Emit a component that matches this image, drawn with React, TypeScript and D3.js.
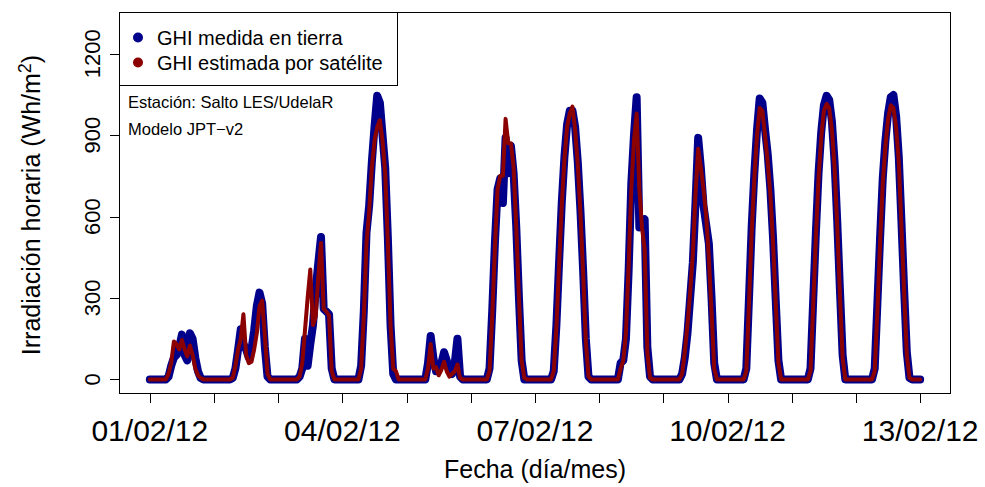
import React, { useRef, useEffect } from 'react';
import * as d3 from 'd3';

// etiquetas del eje x (una por día, se rotulan cada 3)
const dayLabels = [
  '01/02/12', '02/02/12', '03/02/12', '04/02/12', '05/02/12', '06/02/12', '07/02/12',
  '08/02/12', '09/02/12', '10/02/12', '11/02/12', '12/02/12', '13/02/12',
];
const yTicks = [0, 300, 600, 900, 1200];

// GHI horaria medida en tierra (Wh/m2), una fila por día, horas 0..23
const medida: number[][] = [
  [0, 0, 0, 0, 0, 0, 0, 10, 50, 80, 90, 120, 165, 90, 70, 170, 150, 80, 30, 5, 0, 0, 0, 0],
  [0, 0, 0, 0, 0, 0, 0, 5, 40, 110, 185, 130, 110, 80, 110, 180, 270, 320, 280, 120, 10, 0, 0, 0],
  [0, 0, 0, 0, 0, 0, 0, 0, 10, 40, 150, 50, 130, 200, 330, 430, 525, 260, 250, 240, 40, 0, 0, 0],
  [0, 0, 0, 0, 0, 0, 0, 50, 250, 540, 640, 800, 930, 1045, 1020, 900, 780, 520, 200, 20, 0, 0, 0, 0],
  [0, 0, 0, 0, 0, 0, 0, 0, 60, 160, 80, 30, 40, 60, 100, 70, 30, 20, 60, 150, 10, 0, 0, 0],
  [0, 0, 0, 0, 0, 0, 0, 40, 250, 500, 700, 740, 650, 890, 760, 860, 760, 560, 300, 70, 0, 0, 0, 0],
  [0, 0, 0, 0, 0, 0, 0, 30, 200, 430, 650, 820, 940, 990, 990, 930, 800, 620, 400, 150, 10, 0, 0, 0],
  [0, 0, 0, 0, 0, 0, 0, 0, 60, 70, 150, 400, 720, 900, 1040, 560, 580, 590, 120, 10, 0, 0, 0, 0],
  [0, 0, 0, 0, 0, 0, 0, 20, 80, 170, 300, 430, 650, 890, 780, 640, 570, 500, 300, 60, 0, 0, 0, 0],
  [0, 0, 0, 0, 0, 0, 0, 40, 300, 560, 760, 920, 1035, 1020, 920, 830, 700, 520, 290, 70, 0, 0, 0, 0],
  [0, 0, 0, 0, 0, 0, 0, 40, 290, 540, 760, 910, 1010, 1045, 1030, 950, 800, 580, 330, 90, 0, 0, 0, 0],
  [0, 0, 0, 0, 0, 0, 0, 40, 280, 520, 740, 880, 980, 1040, 1048, 970, 820, 580, 330, 100, 5, 0, 0, 0],
];

// GHI horaria estimada por satélite (Wh/m2)
const estimada: number[][] = [
  [0, 0, 0, 0, 0, 0, 0, 20, 60, 140, 130, 110, 145, 110, 85, 125, 90, 40, 15, 5, 0, 0, 0, 0],
  [0, 0, 0, 0, 0, 0, 0, 5, 50, 110, 150, 240, 90, 60, 65, 110, 170, 270, 290, 160, 20, 0, 0, 0],
  [0, 0, 0, 0, 0, 0, 0, 0, 10, 60, 180, 300, 405, 200, 230, 380, 503, 260, 250, 235, 30, 0, 0, 0],
  [0, 0, 0, 0, 0, 0, 0, 40, 230, 500, 620, 780, 880, 930, 955, 880, 760, 500, 200, 40, 30, 0, 0, 0],
  [0, 0, 0, 0, 0, 0, 0, 0, 40, 130, 40, 45, 15, 35, 65, 30, 10, 20, 30, 55, 5, 0, 0, 0],
  [0, 0, 0, 0, 0, 0, 0, 30, 230, 480, 700, 750, 750, 960, 870, 870, 780, 560, 300, 70, 5, 0, 0, 0],
  [0, 0, 0, 0, 0, 0, 0, 30, 190, 420, 640, 810, 930, 980, 1005, 920, 790, 610, 390, 140, 10, 0, 0, 0],
  [0, 0, 0, 0, 0, 0, 0, 0, 40, 70, 170, 420, 700, 880, 980, 700, 560, 480, 100, 5, 0, 0, 0, 0],
  [0, 0, 0, 0, 0, 0, 0, 20, 100, 200, 320, 460, 680, 850, 780, 700, 600, 450, 250, 40, 0, 0, 0, 0],
  [0, 0, 0, 0, 0, 0, 0, 30, 280, 540, 740, 900, 1000, 990, 900, 800, 680, 500, 280, 60, 0, 0, 0, 0],
  [0, 0, 0, 0, 0, 0, 0, 30, 270, 520, 740, 890, 990, 1015, 1000, 920, 780, 560, 310, 80, 0, 0, 0, 0],
  [0, 0, 0, 0, 0, 0, 0, 30, 250, 500, 720, 860, 960, 1010, 1000, 930, 800, 560, 320, 90, 5, 0, 0, 0],
];

const App = () => {
  const svgRef = useRef<SVGSVGElement>(null);

  useEffect(() => {
    if (!svgRef.current) return;
    const svg = d3.select(svgRef.current);
    svg.selectAll('*').remove();

    const font = "'Liberation Sans', Arial, Helvetica, sans-serif";
    const nHours = medida.length * 24;

    // ejes con la extensión del 4% como en R
    const x = d3.scaleLinear()
      .domain([-0.04 * nHours, nHours * 1.04])
      .range([119, 951]);
    const y = d3.scaleLinear()
      .domain([-52, 1352])
      .range([393.5, 12.5]);

    const toSeries = (rows: number[][]) => {
      const pts: [number, number][] = [];
      rows.forEach((r, d) => r.forEach((v, h) => pts.push([d * 24 + h, v])));
      pts.push([nHours, 0]);
      return pts;
    };

    const line = d3.line<[number, number]>()
      .x(d => x(d[0]))
      .y(d => y(d[1]));

    svg.append('path')
      .attr('d', line(toSeries(medida)))
      .attr('fill', 'none')
      .attr('stroke', '#00008B')
      .attr('stroke-width', 8)
      .attr('stroke-linejoin', 'round')
      .attr('stroke-linecap', 'round');

    svg.append('path')
      .attr('d', line(toSeries(estimada)))
      .attr('fill', 'none')
      .attr('stroke', '#8B0000')
      .attr('stroke-width', 4)
      .attr('stroke-linejoin', 'round')
      .attr('stroke-linecap', 'round');

    // caja del gráfico
    svg.append('rect')
      .attr('x', 119.5).attr('y', 12.5)
      .attr('width', 831).attr('height', 381)
      .attr('fill', 'none').attr('stroke', '#000').attr('stroke-width', 1);

    // eje x
    const xTicks = dayLabels.map((_, i) => i * 24);
    const gx = svg.append('g');
    gx.selectAll('line').data(xTicks).enter().append('line')
      .attr('x1', d => Math.round(x(d)) + 0.5).attr('x2', d => Math.round(x(d)) + 0.5)
      .attr('y1', 393.5).attr('y2', 403)
      .attr('stroke', '#000');
    gx.selectAll('text').data(xTicks.filter((_, i) => i % 3 === 0)).enter().append('text')
      .attr('x', d => x(d)).attr('y', 441)
      .attr('text-anchor', 'middle')
      .style('font-family', font).style('font-size', '30px')
      .text(d => dayLabels[d / 24]);

    // eje y
    const gy = svg.append('g');
    gy.selectAll('line').data(yTicks).enter().append('line')
      .attr('x1', 110).attr('x2', 119.5)
      .attr('y1', d => Math.round(y(d)) + 0.5).attr('y2', d => Math.round(y(d)) + 0.5)
      .attr('stroke', '#000');
    gy.selectAll('text').data(yTicks).enter().append('text')
      .attr('transform', d => `translate(100, ${y(d)}) rotate(-90)`)
      .attr('text-anchor', 'middle')
      .style('font-family', font).style('font-size', '22px')
      .text(d => d);

    // títulos
    svg.append('text')
      .attr('x', 535).attr('y', 478)
      .attr('text-anchor', 'middle')
      .style('font-family', font).style('font-size', '25px')
      .text('Fecha (día/mes)');

    const yt = svg.append('text')
      .attr('transform', 'translate(40, 205) rotate(-90)')
      .attr('text-anchor', 'middle')
      .style('font-family', font).style('font-size', '25px');
    yt.append('tspan').text('Irradiación horaria (Wh/m');
    yt.append('tspan').attr('dy', -9).style('font-size', '18px').text('2');
    yt.append('tspan').attr('dy', 9).text(')');

    // leyenda
    const legend = [
      { label: 'GHI medida en tierra', color: '#00008B' },
      { label: 'GHI estimada por satélite', color: '#8B0000' },
    ];
    svg.append('rect')
      .attr('x', 119.5).attr('y', 12.5)
      .attr('width', 278).attr('height', 73)
      .attr('fill', '#fff').attr('stroke', '#000');
    const lg = svg.selectAll('.leg').data(legend).enter().append('g')
      .attr('class', 'leg')
      .attr('transform', (_, i) => `translate(0, ${37.5 + i * 25})`);
    lg.append('circle')
      .attr('cx', 138).attr('cy', 0).attr('r', 5)
      .attr('fill', d => d.color);
    lg.append('text')
      .attr('x', 157).attr('y', 7.5)
      .style('font-family', font).style('font-size', '20px')
      .text(d => d.label);

    svg.append('text')
      .attr('x', 128).attr('y', 108)
      .style('font-family', font).style('font-size', '16.5px')
      .text('Estación: Salto LES/UdelaR');
    svg.append('text')
      .attr('x', 128).attr('y', 135)
      .style('font-family', font).style('font-size', '16.5px')
      .text('Modelo JPT\u2212v2');
  }, []);

  return (
    <svg
      ref={svgRef}
      width={985}
      height={487}
      style={{ position: 'absolute', left: 0, top: 0, background: '#fff' }}
    />
  );
};

export default App;
